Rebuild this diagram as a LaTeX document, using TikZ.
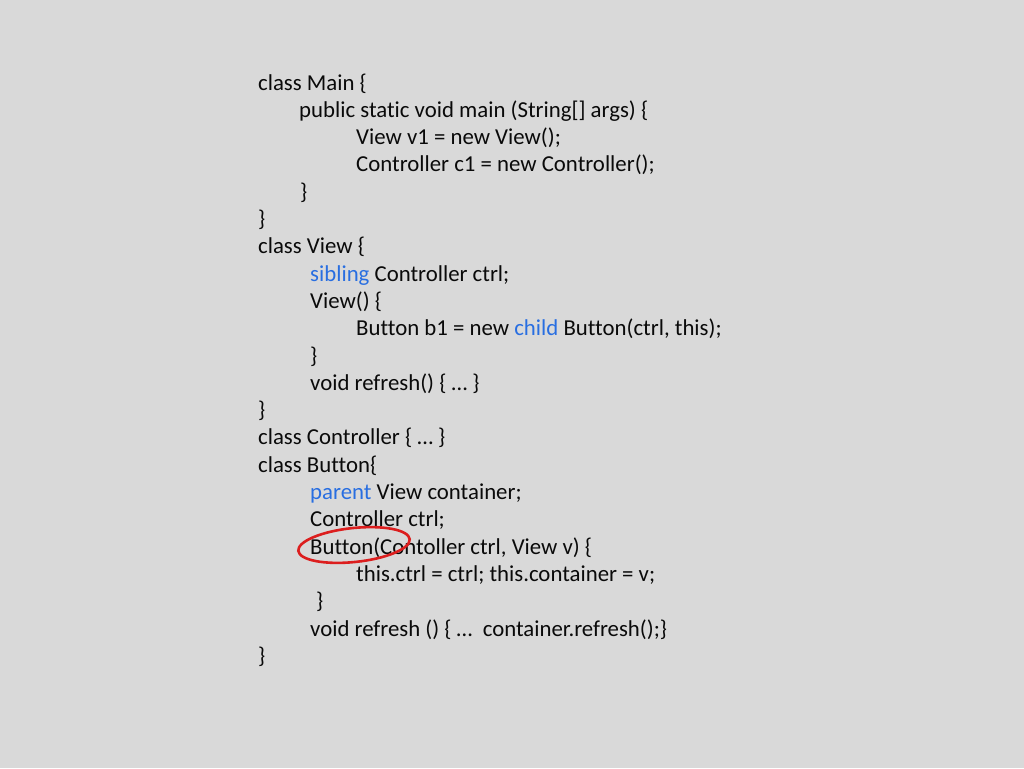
\documentclass[tikz,border=0pt]{standalone}
\usepackage{fontspec}
\setmainfont[Ligatures=NoCommon]{Carlito}
\definecolor{bg}{RGB}{217,217,217}
\definecolor{kw}{RGB}{40,110,225}
\definecolor{txt}{RGB}{10,10,10}
\definecolor{ring}{RGB}{220,30,30}
\newcommand{\kwd}[1]{\textcolor{kw}{#1}}
\begin{document}
\begin{tikzpicture}[x=1pt,y=1pt,
  code/.style={anchor=base west,inner sep=0pt,text=txt,font=\fontsize{22.8}{27}\selectfont}]
\fill[bg] (0,0) rectangle (1024,-768);
\useasboundingbox (0,0) rectangle (1024,-768);
\def\ls{27.3}
\node[code] (l1)  at (258,{-90-0*\ls}) {class Main \{};
\node[code] (l2)  at (299,{-90-1*\ls}) {public static void main (String[] args) \{};
\node[code] (l3)  at (356,{-90-2*\ls}) {View v1 = new View();};
\node[code] (l4)  at (356,{-90-3*\ls}) {Controller c1 = new Controller();};
\node[code] (l5)  at (300,{-90-4*\ls}) {\}};
\node[code] (l6)  at (258,{-90-5*\ls}) {\}};
\node[code] (l7)  at (258,{-90-6*\ls}) {class View \{};
\node[code] (l8)  at (310,{-90-7*\ls}) {\kwd{sibling} Controller ctrl;};
\node[code] (l9)  at (310,{-90-8*\ls}) {View() \{};
\node[code] (l10) at (356,{-90-9*\ls}) {Button b1 = new \kwd{child} Button(ctrl, this);};
\node[code] (l11) at (310,{-90-10*\ls}) {\}};
\node[code] (l12) at (310,{-90-11*\ls}) {void refresh() \{ … \}};
\node[code] (l13) at (258,{-90-12*\ls}) {\}};
\node[code] (l14) at (258,{-90-13*\ls}) {class Controller \{ … \}};
\node[code] (l15) at (258,{-90-14*\ls}) {class Button\{};
\node[code] (l16) at (310,{-90-15*\ls}) {\kwd{parent} View container;};
\node[code] (l17) at (310,{-90-16*\ls}) {Controller ctrl;};
\node[code] (l18) at (310,{-90-17*\ls}) {Button(Contoller ctrl, View v) \{};
\node[code] (l19) at (356,{-90-18*\ls}) {this.ctrl = ctrl; this.container = v;};
\node[code] (l20) at (316,{-90-19*\ls}) {\}};
\node[code] (l21) at (310,{-90-20*\ls}) {void refresh () \{ …\ \ container.refresh();\}};
\node[code] (l22) at (258,{-90-21*\ls}) {\}};
\draw[ring,line width=2.6pt,rotate around={6:(354,-545)}] (354,-545) ellipse [x radius=56, y radius=17];
\end{tikzpicture}
\end{document}
